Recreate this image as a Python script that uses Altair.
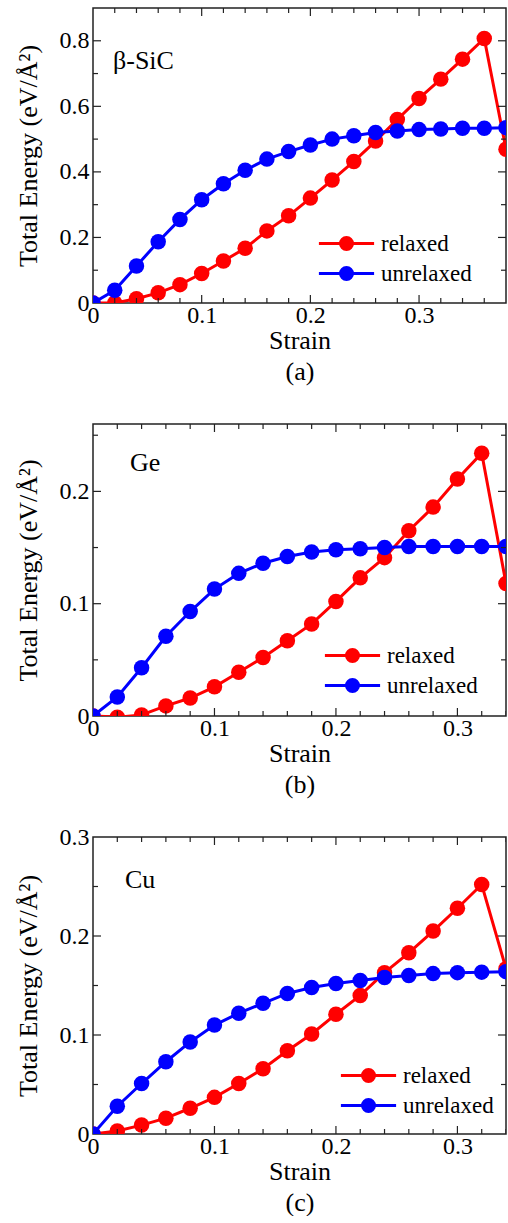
import altair as alt
import pandas as pd

FONT = "Liberation Serif"

# ---------------- data ----------------
strain_a = [0.00, 0.02, 0.04, 0.06, 0.08, 0.10, 0.12, 0.14, 0.16, 0.18,
            0.20, 0.22, 0.24, 0.26, 0.28, 0.30, 0.32, 0.34, 0.36, 0.38]
relaxed_a = [0.000, 0.000, 0.013, 0.031, 0.056, 0.090, 0.128, 0.167, 0.220, 0.266,
             0.320, 0.375, 0.432, 0.494, 0.560, 0.624, 0.683, 0.744, 0.807, 0.469]
unrelaxed_a = [0.000, 0.039, 0.113, 0.187, 0.255, 0.315, 0.364, 0.405, 0.439, 0.462,
               0.482, 0.500, 0.510, 0.520, 0.525, 0.529, 0.531, 0.533, 0.533, 0.535]

strain_b = [0.00, 0.02, 0.04, 0.06, 0.08, 0.10, 0.12, 0.14, 0.16,
            0.18, 0.20, 0.22, 0.24, 0.26, 0.28, 0.30, 0.32, 0.34]
relaxed_b = [0.000, -0.001, 0.001, 0.009, 0.016, 0.026, 0.039, 0.052, 0.067,
             0.082, 0.102, 0.123, 0.141, 0.165, 0.186, 0.211, 0.234, 0.118]
unrelaxed_b = [0.000, 0.017, 0.043, 0.071, 0.093, 0.113, 0.127, 0.136, 0.142,
               0.146, 0.148, 0.149, 0.150, 0.151, 0.151, 0.151, 0.151, 0.151]

strain_c = [0.00, 0.02, 0.04, 0.06, 0.08, 0.10, 0.12, 0.14, 0.16,
            0.18, 0.20, 0.22, 0.24, 0.26, 0.28, 0.30, 0.32, 0.34]
relaxed_c = [0.000, 0.003, 0.009, 0.016, 0.026, 0.037, 0.051, 0.066, 0.084,
             0.101, 0.121, 0.140, 0.163, 0.183, 0.205, 0.228, 0.252, 0.167]
unrelaxed_c = [0.000, 0.028, 0.051, 0.073, 0.093, 0.110, 0.122, 0.132, 0.142,
               0.148, 0.152, 0.155, 0.158, 0.160, 0.162, 0.163, 0.1635, 0.164]

series_names = ["relaxed", "unrelaxed"]
series_colors = ["#ff0000", "#0000ff"]

x_labels = [0, 0.1, 0.2, 0.3]
x_major = [0.1, 0.2, 0.3]
x_minor = [0.02, 0.04, 0.06, 0.08, 0.12, 0.14, 0.16, 0.18,
           0.22, 0.24, 0.26, 0.28, 0.32, 0.34, 0.36]

y_labels_a = [0, 0.2, 0.4, 0.6, 0.8]
y_major_a = [0.2, 0.4, 0.6, 0.8]
y_minor_a = [0.1, 0.3, 0.5, 0.7]
y_labels_b = [0, 0.1, 0.2]
y_major_b = [0.1, 0.2]
y_minor_b = [0.05, 0.15, 0.25]
y_labels_c = [0, 0.1, 0.2, 0.3]
y_major_c = [0.1, 0.2]
y_minor_c = [0.05, 0.15, 0.25]

W = 413
MAJ = 8
MIN = 5
LEG_PATH = "M-4.6,0L4.6,0M1,0A1,1,0,1,1,-1,0A1,1,0,1,1,1,0Z"
LABEL_EXPR = "datum.value == 0 ? '0' : format(datum.value, '.1f')"


def panel(strain, relaxed, unrelaxed, xmax, ymax, H, y_labels, y_major, y_minor,
          name, caption, name_pos, leg_pos):
    n = len(strain)
    df = pd.DataFrame({
        "strain": list(strain) * 2,
        "energy": list(relaxed) + list(unrelaxed),
        "series": [series_names[0]] * n + [series_names[1]] * n,
    })
    xs = alt.Scale(domain=[0, xmax], nice=False, zero=False)
    ys = alt.Scale(domain=[0, ymax], nice=False, zero=False)
    legend = alt.Legend(
        orient="none", legendX=leg_pos[0], legendY=leg_pos[1], title=None,
        symbolType=LEG_PATH, symbolSize=144, symbolStrokeWidth=3,
        labelOffset=23, rowPadding=5, padding=0,
    )
    color = alt.Color("series:N", scale=alt.Scale(domain=series_names, range=series_colors),
                      legend=legend)
    xaxis = alt.Axis(values=x_labels, labelExpr=LABEL_EXPR, ticks=False, domain=False,
                     grid=False, labelPadding=0, labelFlush=False,
                     title=["Strain", caption], titlePadding=0, titleLineHeight=31)
    yaxis = alt.Axis(values=y_labels, labelExpr=LABEL_EXPR, ticks=False, domain=False,
                     grid=False, labelPadding=4, title="Total Energy (eV/Å²)",
                     titlePadding=18)
    layers = []
    for s in series_names:
        base = alt.Chart(df).transform_filter(alt.datum.series == s).encode(
            x=alt.X("strain:Q", scale=xs, axis=xaxis),
            y=alt.Y("energy:Q", scale=ys, axis=yaxis),
            color=color,
        )
        layers.append(base.mark_line(strokeWidth=3, clip=True))
        layers.append(base.mark_point(filled=True, size=240, opacity=1, clip=True))

    def xrule(vals, y0, y1):
        return alt.Chart(pd.DataFrame({"strain": vals})).mark_rule(
            color="#222", strokeWidth=1.2, clip=True).encode(
            x=alt.X("strain:Q", scale=xs, axis=xaxis), y=alt.value(y0), y2=alt.value(y1))

    def yrule(vals, x0, x1):
        return alt.Chart(pd.DataFrame({"energy": vals})).mark_rule(
            color="#222", strokeWidth=1.2, clip=True).encode(
            y=alt.Y("energy:Q", scale=ys, axis=yaxis), x=alt.value(x0), x2=alt.value(x1))

    ticks = [
        xrule(x_major, H, H - MAJ), xrule(x_minor, H, H - MIN),
        xrule(x_major, 0, MAJ), xrule(x_minor, 0, MIN),
        yrule(y_major, 0, MAJ), yrule(y_minor, 0, MIN),
        yrule(y_major, W, W - MAJ), yrule(y_minor, W, W - MIN),
    ]
    text = alt.Chart(pd.DataFrame({"t": [name]})).mark_text(
        align="left", baseline="middle", font=FONT, fontSize=26, color="black"
    ).encode(x=alt.value(name_pos[0]), y=alt.value(name_pos[1]), text="t:N")

    return alt.layer(*layers, *ticks, text).properties(width=W, height=H)


pa = panel(strain_a, relaxed_a, unrelaxed_a, 0.38, 0.9, 295, y_labels_a, y_major_a, y_minor_a,
           "β-SiC", "(a)", (20, 53), (242, 224))
pb = panel(strain_b, relaxed_b, unrelaxed_b, 0.34, 0.26, 292, y_labels_b, y_major_b, y_minor_b,
           "Ge", "(b)", (37, 39), (248, 220))
pc = panel(strain_c, relaxed_c, unrelaxed_c, 0.34, 0.3, 297, y_labels_c, y_major_c, y_minor_c,
           "Cu", "(c)", (32, 43), (264, 227))

chart = alt.vconcat(pa, pb, pc, spacing=121, bounds="flush").resolve_scale(
    color="independent"
).configure(font=FONT).configure_view(stroke="#222", strokeWidth=1.5).configure_axis(
    labelFont=FONT, labelFontSize=24, labelColor="black",
    titleFont=FONT, titleFontSize=26, titleFontWeight="normal", titleColor="black",
).configure_legend(
    labelFont=FONT, labelFontSize=23, labelColor="black"
).properties(
    padding={"left": 14, "top": 7, "right": 0, "bottom": 0},
    background="white",
)

chart.save("out.html", embed_options={"renderer": "svg", "actions": False})
